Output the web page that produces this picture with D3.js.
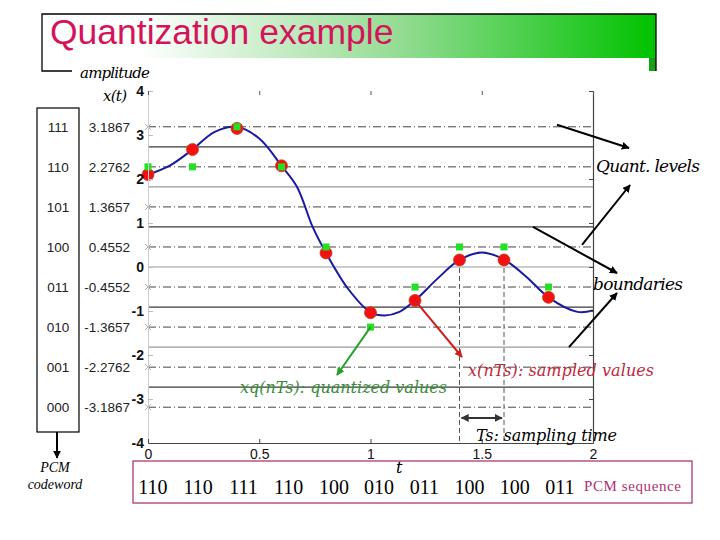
<!DOCTYPE html>
<html>
<head>
<meta charset="utf-8">
<script src="https://cdn.jsdelivr.net/npm/d3@7"></script>
<style>
  body { margin: 0; background: #fff; }
  svg { display: block; }
</style>
</head>
<body>
<svg id="chart" width="720" height="540"></svg>
<script>
// ---------- data
var tCurve = [0, 0.1, 0.2, 0.3, 0.4, 0.5, 0.6, 0.67, 0.74, 0.8, 0.9, 1.0, 1.065, 1.13, 1.2, 1.3, 1.4, 1.5, 1.6, 1.7, 1.8, 1.93, 2.0];
var xCurve = [2.10, 2.31, 2.67, 3.07, 3.18, 2.92, 2.30, 1.82, 0.91, 0.32, -0.50, -1.03, -1.10, -1.02, -0.76, -0.27, 0.16, 0.33, 0.17, -0.22, -0.69, -1.02, -0.99];

var tSample = [0, 0.2, 0.4, 0.6, 0.8, 1.0, 1.2, 1.4, 1.6, 1.8];
var xSample = [2.10, 2.67, 3.15, 2.30, 0.32, -1.04, -0.76, 0.16, 0.16, -0.69];

var quantLevels = [3.1867, 2.2762, 1.3657, 0.4552, -0.4552, -1.3657, -2.2762, -3.1867];
var codewords = ['111', '110', '101', '100', '011', '010', '001', '000'];
var boundaries = [2.7315, 1.8210, 0.9105, 0, -0.9105, -1.8210, -2.7315];
var pcmSequence = ['110', '110', '111', '110', '100', '010', '011', '100', '100', '011'];

var yTicks = [-4, -3, -2, -1, 0, 1, 2, 3, 4];
var xTicks = [0, 0.5, 1, 1.5, 2];

// quantized sample = level of its codeword
var xqSample = pcmSequence.map(function(c) { return quantLevels[codewords.indexOf(c)]; });

// ---------- setup
var svg = d3.select('#chart');
var serif = '"DejaVu Serif", "Liberation Serif", serif';
var times = '"Liberation Serif", "Times New Roman", serif';
var sans = '"Liberation Sans", Arial, sans-serif';

var x = d3.scaleLinear().domain([0, 2]).range([148, 593]);
var y = d3.scaleLinear().domain([-4, 4]).range([443, 91]);

function hyphen(s) { return String(s).replace('\u2212', '-'); }

var defs = svg.append('defs');

function addMarker(id, color) {
  defs.append('marker')
    .attr('id', id)
    .attr('viewBox', '0 0 10 10')
    .attr('refX', 9).attr('refY', 5)
    .attr('markerWidth', 4).attr('markerHeight', 4)
    .attr('orient', 'auto-start-reverse')
    .append('path')
    .attr('d', 'M0,0 L10,5 L0,10 z')
    .style('fill', color);
}
addMarker('arBlack', '#000');
addMarker('arRed', '#cc2020');
addMarker('arGreen', '#22a22a');
addMarker('arGrey', '#333');

var grad = defs.append('linearGradient').attr('id', 'titleGrad')
  .attr('x1', '0%').attr('x2', '100%').attr('y1', '0%').attr('y2', '0%');
grad.append('stop').attr('offset', '16%').attr('stop-color', '#ffffff');
grad.append('stop').attr('offset', '58%').attr('stop-color', '#94dc94');
grad.append('stop').attr('offset', '100%').attr('stop-color', '#00c200');

// italic annotation text, stretched to the width it has in the picture
function note(px, py, str, width, size, color) {
  return svg.append('text')
    .attr('x', px).attr('y', py)
    .attr('textLength', width)
    .style('font-family', serif).style('font-style', 'italic')
    .style('font-size', size + 'px')
    .style('fill', color || '#000')
    .text(str);
}

// ---------- title banner
svg.append('rect')
  .attr('x', 42).attr('y', 14).attr('width', 614).attr('height', 44)
  .style('fill', 'url(#titleGrad)');
svg.append('rect')
  .attr('x', 649).attr('y', 58).attr('width', 7).attr('height', 13)
  .style('fill', '#18a018');
svg.append('path')
  .attr('d', 'M72,71 H42 V14 H656 V71')
  .style('fill', 'none').style('stroke', '#000').style('stroke-width', 1.3);
svg.append('text')
  .attr('x', 50).attr('y', 44)
  .style('font-family', sans).style('font-size', '35.5px')
  .style('fill', '#d4145a')
  .text('Quantization example');

note(80, 78, 'amplitude', 70, 15);
note(103, 101, 'x(t)', 24, 15);

// ---------- horizontal level lines
var plot = svg.append('g');

plot.selectAll('line.boundary')
  .data(boundaries)
  .enter().append('line')
  .attr('class', 'boundary')
  .attr('x1', x(0)).attr('x2', x(2))
  .attr('y1', function(d) { return y(d); })
  .attr('y2', function(d) { return y(d); })
  .style('stroke', function(d, i) { return i % 2 === 0 ? '#3a3a3a' : '#9a9a9a'; })
  .style('stroke-width', 1.2);

plot.selectAll('line.level')
  .data(quantLevels)
  .enter().append('line')
  .attr('class', 'level')
  .attr('x1', x(0)).attr('x2', x(2))
  .attr('y1', function(d) { return y(d); })
  .attr('y2', function(d) { return y(d); })
  .style('stroke', '#444')
  .style('stroke-width', 1)
  .style('stroke-dasharray', '8,3,1,3');

// grey x markers at the level lines on the axis
plot.selectAll('path.xmark')
  .data(quantLevels)
  .enter().append('path')
  .attr('class', 'xmark')
  .attr('transform', function(d) { return 'translate(' + x(0) + ',' + y(d) + ')'; })
  .attr('d', 'M-3,-3 L3,3 M-3,3 L3,-3')
  .style('stroke', '#aaa').style('stroke-width', 1);

// ---------- axes
var axLeft = svg.append('g').attr('transform', 'translate(' + x(0) + ',0)')
  .call(d3.axisLeft(y).tickValues(yTicks).tickSizeInner(-5).tickSizeOuter(0).tickPadding(4).tickFormat(hyphen));
axLeft.select('.domain').style('stroke', '#ccc');
axLeft.selectAll('.tick line').style('stroke', '#bbb');
axLeft.selectAll('.tick text')
  .style('font-family', sans).style('font-size', '14px').style('font-weight', 'bold').style('fill', '#111');

var axRight = svg.append('g').attr('transform', 'translate(' + x(2) + ',0)')
  .call(d3.axisRight(y).tickValues(yTicks).tickSizeInner(-4).tickSizeOuter(0).tickFormat(''));
axRight.select('.domain').style('stroke', '#444').style('stroke-width', 1.2);
axRight.selectAll('.tick line').style('stroke', '#444');

var axTop = svg.append('g').attr('transform', 'translate(0,' + y(4) + ')')
  .call(d3.axisTop(x).tickValues(xTicks).tickSizeInner(-4).tickSizeOuter(0).tickFormat(''));
axTop.select('.domain').remove();
axTop.selectAll('.tick line').style('stroke', '#555');

var axBottom = svg.append('g').attr('transform', 'translate(0,' + y(-4) + ')')
  .call(d3.axisBottom(x).tickValues(xTicks).tickSizeInner(-4).tickSizeOuter(0).tickPadding(6).tickFormat(d3.format('')));
axBottom.select('.domain').style('stroke', '#444').style('stroke-width', 1.2);
axBottom.selectAll('.tick line').style('stroke', '#444');
axBottom.selectAll('.tick text')
  .style('font-family', sans).style('font-size', '14px').style('fill', '#111');

note(396, 473, 't', 6, 16);

// ---------- vertical dashed lines & Ts arrow
var tsIdx = [7, 8];
plot.selectAll('line.vdash')
  .data(tsIdx)
  .enter().append('line')
  .attr('class', 'vdash')
  .attr('x1', function(i) { return x(tSample[i]); })
  .attr('x2', function(i) { return x(tSample[i]); })
  .attr('y1', function(i) { return y(xSample[i]); })
  .attr('y2', y(-4))
  .style('stroke', '#555').style('stroke-width', 1)
  .style('stroke-dasharray', '5,3');

svg.append('line')
  .attr('x1', x(tSample[7]) + 2).attr('x2', x(tSample[8]) - 2)
  .attr('y1', y(-3.43)).attr('y2', y(-3.43))
  .style('stroke', '#333').style('stroke-width', 2)
  .attr('marker-start', 'url(#arGrey)')
  .attr('marker-end', 'url(#arGrey)');

// ---------- curve and samples
var line = d3.line()
  .x(function(d) { return x(d[0]); })
  .y(function(d) { return y(d[1]); })
  .curve(d3.curveCatmullRom.alpha(0.5));

plot.append('path')
  .datum(d3.zip(tCurve, xCurve))
  .attr('d', line)
  .style('fill', 'none')
  .style('stroke', '#1a1aa0')
  .style('stroke-width', 2);

plot.selectAll('circle.sample')
  .data(d3.zip(tSample, xSample))
  .enter().append('circle')
  .attr('class', 'sample')
  .attr('cx', function(d) { return x(d[0]); })
  .attr('cy', function(d) { return y(d[1]); })
  .attr('r', 6)
  .style('fill', '#f41010')
  .style('stroke', '#c04020')
  .style('stroke-width', 0.8);

plot.selectAll('rect.quant')
  .data(d3.zip(tSample, xqSample))
  .enter().append('rect')
  .attr('class', 'quant')
  .attr('x', function(d) { return x(d[0]) - 3.5; })
  .attr('y', function(d) { return y(d[1]) - 3.5; })
  .attr('width', 7).attr('height', 7)
  .style('fill', '#22e022');

// ---------- annotations
function arrow(x1, y1, x2, y2, color, marker, w) {
  svg.append('line')
    .attr('x1', x1).attr('y1', y1).attr('x2', x2).attr('y2', y2)
    .style('stroke', color).style('stroke-width', w || 2)
    .attr('marker-end', 'url(#' + marker + ')');
}

// sampled values (from the t = 1.2 sample)
arrow(x(tSample[6]), y(xSample[6]), 462, 357, '#cc2020', 'arRed');
note(468, 376, 'x(nTs): sampled values', 186, 16, '#c0283a');

// quantized values (from the t = 1.0 sample)
arrow(x(tSample[5]), y(xqSample[5]), 337, 375, '#22a22a', 'arGreen');
note(240, 393, 'xq(nTs): quantized values', 207, 16, '#3a8c3a');

note(476, 441, 'Ts: sampling time', 141, 16);

// quant levels
arrow(557, y(quantLevels[0]) - 2, 629, 148, '#000', 'arBlack');
arrow(582, y(quantLevels[3]) - 2, 630, 185, '#000', 'arBlack');
note(596, 172, 'Quant. levels', 104, 17);

// boundaries
arrow(533, y(boundaries[2]), 617, 273, '#000', 'arBlack');
arrow(569, y(boundaries[5]), 617, 293, '#000', 'arBlack');
note(593, 290, 'boundaries', 90, 17);

// ---------- codeword table on the left
svg.append('rect')
  .attr('x', 37).attr('y', 108).attr('width', 42).attr('height', 324)
  .style('fill', 'none').style('stroke', '#000').style('stroke-width', 1.2);

svg.selectAll('text.code')
  .data(codewords)
  .enter().append('text')
  .attr('class', 'code')
  .attr('x', 58)
  .attr('y', function(d, i) { return y(quantLevels[i]) + 5; })
  .attr('text-anchor', 'middle')
  .style('font-family', sans).style('font-size', '13.5px').style('fill', '#222')
  .text(function(d) { return d; });

svg.selectAll('text.levelval')
  .data(quantLevels)
  .enter().append('text')
  .attr('class', 'levelval')
  .attr('x', 130)
  .attr('y', function(d) { return y(d) + 5; })
  .attr('text-anchor', 'end')
  .style('font-family', sans).style('font-size', '13.5px').style('fill', '#222')
  .text(function(d) { return hyphen(d3.format('.4f')(d)); });

arrow(57, 432, 57, 458, '#000', 'arBlack', 2);
svg.selectAll('text.cwlabel')
  .data(['PCM', 'codeword'])
  .enter().append('text')
  .attr('class', 'cwlabel')
  .attr('x', 55)
  .attr('y', function(d, i) { return 472 + i * 17; })
  .attr('text-anchor', 'middle')
  .style('font-family', times).style('font-style', 'italic').style('font-size', '14px')
  .text(function(d) { return d; });

// ---------- PCM sequence box
svg.append('rect')
  .attr('x', 133).attr('y', 461).attr('width', 559).attr('height', 42)
  .style('fill', 'none').style('stroke', '#a83a72').style('stroke-width', 1.3);

var seqX = d3.scalePoint().domain(d3.range(pcmSequence.length)).range([153, 560]);
svg.selectAll('text.pcm')
  .data(pcmSequence)
  .enter().append('text')
  .attr('class', 'pcm')
  .attr('x', function(d, i) { return seqX(i); })
  .attr('y', 494)
  .attr('text-anchor', 'middle')
  .style('font-family', times).style('font-size', '20px')
  .text(function(d) { return d; });

svg.append('text')
  .attr('x', 584).attr('y', 491)
  .attr('textLength', 97)
  .style('font-family', times).style('font-size', '15px').style('fill', '#b0306e')
  .text('PCM sequence');
</script>
</body>
</html>
